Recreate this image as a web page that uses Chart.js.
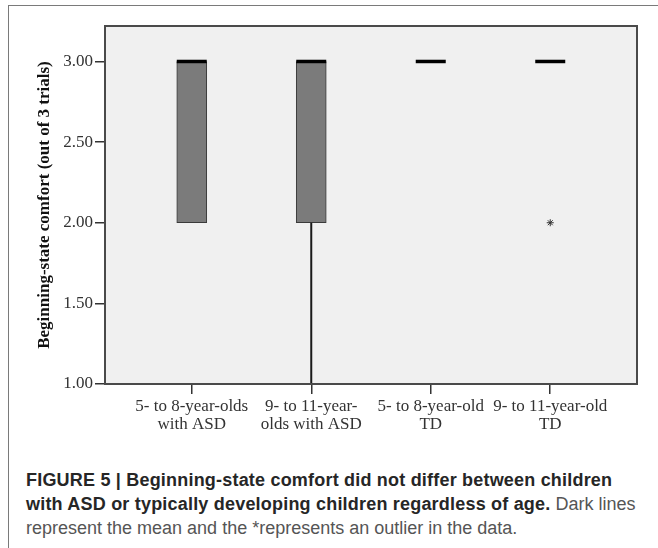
<!DOCTYPE html>
<html>
<head>
<meta charset="utf-8">
<script src="https://cdn.jsdelivr.net/npm/chart.js@4.4.1/dist/chart.umd.min.js"></script>
<style>
  html, body { margin: 0; padding: 0; background: #fff; }
  body { width: 658px; height: 548px; position: relative; overflow: hidden; }
  #frame {
    position: absolute; left: 8px; top: 5px; width: 700px; height: 600px;
    border-top: 1.5px solid #7a7a7a; border-left: 1.5px solid #7a7a7a;
  }
  #chartBox { position: absolute; left: 0; top: 0; width: 658px; height: 440px; }
  #caption {
    position: absolute; left: 26px; top: 468px; width: 630px; white-space: nowrap;
    font-family: "Liberation Sans", Arial, sans-serif; font-size: 18px;
    line-height: 24px; color: #555;
  }
  #caption b { color: #262626; letter-spacing: 0.2px; }
</style>
</head>
<body>
<div id="frame"></div>
<div id="chartBox"><canvas id="boxChart"></canvas></div>
<div id="caption">
  <b>FIGURE 5 | Beginning-state comfort did not differ between children</b><br>
  <b>with ASD or typically developing children regardless of age.</b> Dark lines<br>
  represent the mean and the *represents an outlier in the data.
</div>
<script>
// groups on the x axis (two-line labels)
const categories = [
  ["5- to 8-year-olds", "with ASD"],
  ["9- to 11-year-", "olds with ASD"],
  ["5- to 8-year-old", "TD"],
  ["9- to 11-year-old", "TD"]
];

// box plot values per group
const q1 = [2, 2, 3, 3];
const q3 = [3, 3, 3, 3];
const median = [3, 3, 3, 3];
const whiskerLow = [2, 1, 3, 3];
const whiskerHigh = [3, 3, 3, 3];

// outliers (group index 1-based, value)
const outlierGroup = [4];
const outlierValue = [2];

const yTicks = [1.00, 1.50, 2.00, 2.50, 3.00];

const serif = "'Liberation Serif', 'Times New Roman', serif";

// grey panel + dark frame round the plot area
const panelPlugin = {
  id: "panel",
  beforeDraw(chart) {
    const { ctx, chartArea: a } = chart;
    ctx.save();
    ctx.fillStyle = "#f0f0f0";
    ctx.fillRect(a.left, a.top, a.right - a.left, a.bottom - a.top);
    ctx.restore();
  },
  afterDatasetsDraw(chart) {
    const { ctx, chartArea: a } = chart;
    ctx.save();
    ctx.strokeStyle = "#4a4a4a";
    ctx.lineWidth = 2;
    ctx.strokeRect(a.left, a.top, a.right - a.left, a.bottom - a.top);
    ctx.restore();
  }
};

// whisker lines + caps, only where the whisker leaves the box
const whiskerSets = [];
categories.forEach((c, i) => {
  const x = i + 1;
  const parts = [];
  if (whiskerLow[i] < q1[i]) parts.push([q1[i], whiskerLow[i]]);
  if (whiskerHigh[i] > q3[i]) parts.push([q3[i], whiskerHigh[i]]);
  parts.forEach(p => {
    whiskerSets.push({
      type: "line",
      data: [{ x: x, y: p[0] }, { x: x, y: p[1] }],
      borderColor: "#1a1a1a",
      borderWidth: 2,
      pointRadius: [0, 7],
      pointStyle: "line",
      pointBorderColor: "#1a1a1a",
      pointBorderWidth: 2,
      order: 2
    });
  });
});

new Chart(document.getElementById("boxChart"), {
  type: "bar",
  data: {
    datasets: [
      {
        label: "Box",
        data: categories.map((c, i) => ({ x: i + 1, y: [q1[i], q3[i]] })),
        backgroundColor: "#7b7b7b",
        borderColor: "#3a3a3a",
        borderWidth: 1,
        borderSkipped: false,
        barThickness: 30,
        order: 3
      },
      ...whiskerSets,
      {
        type: "scatter",
        label: "Mean",
        data: categories.map((c, i) => ({ x: i + 1, y: median[i] })),
        pointStyle: "line",
        pointRadius: 15,
        borderColor: "#000",
        borderWidth: 3.5,
        order: 1
      },
      {
        type: "scatter",
        label: "Outlier",
        data: outlierGroup.map((g, i) => ({ x: g, y: outlierValue[i] })),
        pointStyle: "star",
        pointRadius: 3.5,
        borderColor: "#333",
        borderWidth: 1,
        order: 1
      }
    ]
  },
  options: {
    responsive: true,
    maintainAspectRatio: false,
    animation: false,
    layout: { padding: { left: 0, top: 26, right: 21, bottom: 0 } },
    plugins: {
      legend: { display: false },
      tooltip: { enabled: false }
    },
    scales: {
      x: {
        type: "linear",
        offset: false,
        min: 0.274,
        max: 4.726,
        afterBuildTicks: scale => {
          scale.ticks = categories.map((c, i) => ({ value: i + 1 }));
        },
        afterFit: scale => { scale.height = 56; },
        ticks: {
          callback: v => categories[v - 1],
          font: { family: serif, size: 17, lineHeight: 1.06 },
          color: "#333",
          padding: 4,
          maxRotation: 0,
          autoSkip: false
        },
        grid: {
          offset: false,
          drawOnChartArea: false,
          tickLength: 10,
          color: "#333",
          lineWidth: 1.5
        },
        border: { display: false }
      },
      y: {
        min: 1,
        max: 3.22,
        afterBuildTicks: scale => {
          scale.ticks = yTicks.map(v => ({ value: v }));
        },
        afterFit: scale => { scale.width = 105; },
        ticks: {
          callback: v => v.toFixed(2),
          font: { family: serif, size: 17 },
          color: "#333",
          padding: 2
        },
        grid: {
          drawOnChartArea: false,
          tickLength: 10,
          color: "#333",
          lineWidth: 1.5
        },
        border: { display: false },
        title: {
          display: true,
          text: "Beginning-state comfort (out of 3 trials)",
          font: { family: serif, size: 17, weight: "bold" },
          color: "#111",
          padding: { top: 34, bottom: 0 }
        }
      }
    }
  },
  plugins: [panelPlugin]
});
</script>
</body>
</html>
